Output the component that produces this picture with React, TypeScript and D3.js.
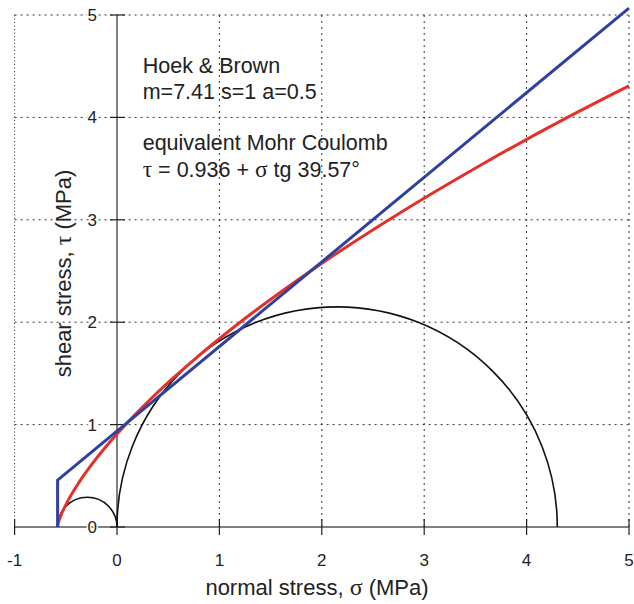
import React from "react";
import * as d3 from "d3";

// Hoek & Brown envelope (sigma_n, tau)
const hbSigma = [-0.58, -0.579, -0.551, -0.496, -0.366, -0.243, -0.123, 0.108, 0.329, 0.544, 0.754, 1.259, 1.744, 2.214, 2.672, 3.558, 4.413, 5.0];
const hbTau = [0, 0.008, 0.103, 0.224, 0.443, 0.616, 0.767, 1.026, 1.25, 1.451, 1.635, 2.043, 2.398, 2.718, 3.011, 3.538, 4.007, 4.308];

// equivalent Mohr Coulomb (with tension cut-off)
const mcSigma = [-0.58, -0.58, 5.0];
const mcTau = [0, 0.457, 5.068];

// Mohr circles: [sigma3, sigma1]
const circles: [number, number][] = [
  [-0.58, 0],
  [0, 4.3],
];

const xTicks = [-1, 0, 1, 2, 3, 4, 5];
const yTicks = [0, 1, 2, 3, 4, 5];
const xGrid = [1, 2, 3, 4, 5];
const yGrid = [1, 2, 3, 4, 5];

const W = 634;
const H = 604;
const FONT = "'Liberation Sans', Arial, Helvetica, sans-serif";
const GREEK = "'Liberation Serif', 'DejaVu Serif', serif";

export default function App() {
  const x = d3.scaleLinear().domain([-1, 5]).range([14.6, 629]);
  const y = d3.scaleLinear().domain([0, 5]).range([527, 15]);

  const line = d3
    .line<[number, number]>()
    .x((d) => x(d[0]))
    .y((d) => y(d[1]));

  const hbPath = d3
    .line<[number, number]>()
    .x((d) => x(d[0]))
    .y((d) => y(d[1]))
    .curve(d3.curveMonotoneX)(hbSigma.map((s, i) => [s, hbTau[i]] as [number, number]));

  const mcPath = line(mcSigma.map((s, i) => [s, mcTau[i]] as [number, number]));

  const circlePaths = circles.map(([s3, s1]) => {
    const p = d3.path();
    const cx = x((s3 + s1) / 2);
    const r = x(s1) - cx;
    p.moveTo(x(s3), y(0));
    p.arc(cx, y(0), r, Math.PI, 2 * Math.PI);
    return p.toString();
  });

  const gridColor = "#333";
  return (
    <svg
      width={W}
      height={H}
      style={{ position: "absolute", left: 0, top: 0, display: "block", background: "#fff" }}
      fontFamily={FONT}
    >
      <rect x={0} y={0} width={W} height={H} fill="#fff" />
      {/* grid */}
      {yGrid.map((v) => (
        <line key={"gy" + v} x1={x(-1)} x2={x(5)} y1={y(v)} y2={y(v)} stroke={gridColor} strokeWidth={1} strokeDasharray="2,4" />
      ))}
      {xGrid.map((v) => (
        <line key={"gx" + v} x1={x(v)} x2={x(v)} y1={y(0)} y2={y(5)} stroke={gridColor} strokeWidth={1} strokeDasharray="2,4" />
      ))}
      <line x1={x(-1)} x2={x(-1)} y1={y(0)} y2={y(5)} stroke={gridColor} strokeWidth={1} strokeDasharray="1,2.5" />

      {/* axes */}
      <line x1={x(-1)} x2={x(5)} y1={y(0)} y2={y(0)} stroke="#808080" strokeWidth={2} />
      <line x1={x(0)} x2={x(0)} y1={y(0)} y2={y(5)} stroke="#808080" strokeWidth={2} />
      {xTicks.map((v) => (
        <line key={"tx" + v} x1={x(v)} x2={x(v)} y1={y(0) - 8} y2={y(0) + 8} stroke="#222" strokeWidth={1.2} />
      ))}
      {yTicks.map((v) => (
        <line key={"ty" + v} x1={x(0) - 7} x2={x(0) + 8} y1={y(v)} y2={y(v)} stroke="#222" strokeWidth={1.2} />
      ))}

      {/* tick labels */}
      {xTicks.map((v) => (
        <text key={"lx" + v} x={x(v)} y={565.5} textAnchor="middle" fontSize={17} fill="#222">
          {v}
        </text>
      ))}
      {yTicks.map((v) => (
        <text
          key={"ly" + v}
          x={97}
          y={y(v) + 6}
          textAnchor="end"
          fontSize={17}
          fill="#222"
          stroke="#fff"
          strokeWidth={3}
          paintOrder="stroke"
        >
          {v}
        </text>
      ))}

      {/* axis titles */}
      <text x={317} y={595} textAnchor="middle" fontSize={22} fill="#222">
        normal stress, <tspan fontFamily={GREEK} fontSize={24}>σ</tspan> (MPa)
      </text>
      <text
        transform={`translate(71, ${273.5}) rotate(-90)`}
        textAnchor="middle"
        fontSize={22}
        fill="#222"
      >
        shear stress, <tspan fontFamily={GREEK} fontSize={24}>τ</tspan> (MPa)
      </text>

      {/* curves */}
      {circlePaths.map((d, i) => (
        <path key={"c" + i} d={d} fill="none" stroke="#111" strokeWidth={1.6} />
      ))}
      <path d={hbPath || ""} fill="none" stroke="#e3302a" strokeWidth={3} />
      <path d={mcPath || ""} fill="none" stroke="#2f40a0" strokeWidth={3} />

      {/* annotations */}
      <text x={142.7} y={73.3} fontSize={21.5} fill="#222">Hoek &amp; Brown</text>
      <text x={142.7} y={99.3} fontSize={21.5} fill="#222">m=7.41 s=1 a=0.5</text>
      <text x={142.7} y={150} fontSize={21.5} fill="#222">equivalent Mohr Coulomb</text>
      <text x={142.7} y={176.7} fontSize={21.5} fill="#222">
        <tspan fontFamily={GREEK} fontSize={23.5}>τ</tspan> = 0.936 + <tspan fontFamily={GREEK} fontSize={23.5}>σ</tspan> tg 39.57°
      </text>
    </svg>
  );
}
